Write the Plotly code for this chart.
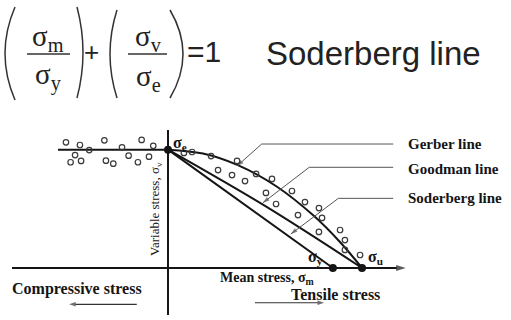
import plotly.graph_objects as go

W, H = 511, 320
# pixel position of the origin and pixels per stress unit
X0, Y0, S = 168, 268, 1.94

# key strengths (arbitrary stress units, sigma_u = 100)
sigma_e = 61
sigma_y = 85
sigma_u = 100

# scattered test points, compressive side
comp_mean = [-52.6, -45.4, -40.6, -32.8, -23.7, -13.6, -7.6, -47.9,
             -50.2, -44.8, -32.0, -28.2, -20.3, -15.5, -9.8]
comp_var = [64.8, 63.4, 60.8, 65.8, 62.2, 66.0, 63.0, 58.2,
            54.5, 55.2, 55.3, 53.8, 57.9, 54.5, 57.4]

# scattered test points, tensile side
tens_mean = [8.2, 12.4, 22.2, 35.6, 25.8, 33.0, 39.7, 45.4, 53.6, 50.5, 55.7,
             63.9, 70.6, 77.8, 67.0, 79.4, 77.8, 88.7, 91.2, 91.2, 99.0]
tens_var = [59.3, 59.8, 57.7, 55.2, 50.5, 47.9, 44.8, 48.5, 45.9, 38.7, 33.0,
            39.7, 34.0, 30.9, 27.3, 25.8, 18.6, 19.6, 14.4, 9.3, 6.7]

# failure lines
gerber_mean = [0, 18, 36, 56, 75, 89, 100]
gerber_var = [61, 59, 53, 42, 27, 13, 0]
goodman_mean = [0, 50, 100]
goodman_var = [61, 32, 0]
soderberg_mean = [0, 85]
soderberg_var = [61, 0]

line_names = ["Gerber line", "Goodman line", "Soderberg line"]
leader_tip = [(35.6, 52.6), (48.9, 33.6), (63.3, 17.5)]
leader_knee = [(48.3, 63.9), (72.8, 51.9), (87.8, 35.9)]
leader_end = 116.1
label_y = [63.9, 50.9, 35.9]

INK = "#151515"
SERIF = "Liberation Serif, Times New Roman, serif"
SANS = "Liberation Sans, Arial, sans-serif"


def px(x):
    return x / W


def py(y):
    return 1 - y / H


def arrow_trace(xs, ys, color, width, head):
    # polyline ending in an arrowhead that follows the last segment
    sizes = [0] * (len(xs) - 1) + [head]
    return go.Scatter(x=xs, y=ys, mode="lines+markers",
                      line=dict(color=color, width=width),
                      marker=dict(symbol="arrow", angleref="previous", size=sizes,
                                  color=color, line=dict(width=0)))


fig = go.Figure()

# axes
fig.add_trace(arrow_trace([-80.4, 122.5], [0, 0], INK, 2, 10))
fig.add_trace(go.Scatter(x=[0, 0], y=[-24.2, 71.1], mode="lines", line=dict(color=INK, width=2)))
fig.add_trace(go.Scatter(x=[-56.7, 0], y=[sigma_e, sigma_e], mode="lines",
                         line=dict(color=INK, width=2)))

fig.add_trace(go.Scatter(x=gerber_mean, y=gerber_var, mode="lines",
                         line=dict(color=INK, width=2, shape="spline")))
fig.add_trace(go.Scatter(x=goodman_mean, y=goodman_var, mode="lines",
                         line=dict(color=INK, width=2, shape="spline")))
fig.add_trace(go.Scatter(x=soderberg_mean, y=soderberg_var, mode="lines",
                         line=dict(color=INK, width=2)))

# leaders to the line labels
for (tx, ty), (kx, ky) in zip(leader_tip, leader_knee):
    fig.add_trace(arrow_trace([leader_end, kx, tx], [ky, ky, ty], "#555", 1, 7))

# direction arrows under the axis
fig.add_trace(arrow_trace([-16.1, -51], [-18.7, -18.7], "#333", 1.2, 7))
fig.add_trace(arrow_trace([44.8, 80.5], [-17.9, -17.9], "#333", 1.2, 7))

fig.add_trace(go.Scatter(x=comp_mean + tens_mean, y=comp_var + tens_var, mode="markers",
                         marker=dict(symbol="circle-open", size=5.5, color="#3a3a3a",
                                     line=dict(width=1.2))))
fig.add_trace(go.Scatter(x=[0, sigma_y, sigma_u], y=[sigma_e, 0, 0], mode="markers",
                         marker=dict(size=8, color=INK)))


# big brackets and fraction bars of the formula
def paren(xe, xb, y0, y1):
    xc = 2 * xb - xe
    ym = (y0 + y1) / 2
    return dict(type="path", xref="paper", yref="paper",
                path=f"M {px(xe)},{py(y0)} Q {px(xc)},{py(ym)} {px(xe)},{py(y1)}",
                line=dict(color="#333", width=1.5))


shapes = [paren(15, 5, 7, 100), paren(77, 83, 7, 98),
          paren(117, 110, 10, 98), paren(170, 183, 10, 98)]
for (a, b) in [(27, 70), (128, 167)]:
    shapes.append(dict(type="line", xref="paper", yref="paper", x0=px(a), x1=px(b),
                       y0=py(54), y1=py(54), line=dict(color="#333", width=1.5)))

ann = []
for name, ly in zip(line_names, label_y):
    ann.append(dict(x=122.5, y=ly, text=f"<b>{name}</b>", showarrow=False, xanchor="left",
                    font=dict(family=SERIF, size=15, color=INK)))
ann += [
    dict(x=-47.1, y=-11.0, text="<b>Compressive stress</b>", showarrow=False,
         font=dict(family=SERIF, size=16, color=INK)),
    dict(x=25.9, y=-5.6, text="<b>Mean stress, σ<sub>m</sub></b>", showarrow=False,
         xanchor="left", font=dict(family=SERIF, size=14, color=INK)),
    dict(x=86.1, y=-13.9, text="<b>Tensile stress</b>", showarrow=False,
         font=dict(family=SERIF, size=16, color=INK)),
    dict(x=-6.7, y=30.4, text="Variable stress, σ<sub>v</sub>", showarrow=False, textangle=-90,
         font=dict(family=SERIF, size=13, color=INK)),
    dict(x=1.5, y=64.4, text="<b>σ<sub>e</sub></b>", showarrow=False, xanchor="left",
         font=dict(family=SERIF, size=16, color=INK)),
    dict(x=76.0, y=5.2, text="<b>σ<sub>y</sub></b>", showarrow=False,
         font=dict(family=SERIF, size=16, color=INK)),
    dict(x=107.2, y=5.2, text="<b>σ<sub>u</sub></b>", showarrow=False,
         font=dict(family=SERIF, size=16, color=INK)),
]


# formula
def ftext(x, y, text, size, family=SERIF, anchor="center"):
    return dict(x=px(x), y=py(y), xref="paper", yref="paper", text=text, showarrow=False,
                xanchor=anchor, yanchor="middle", font=dict(family=family, size=size, color="#222"))


ann += [
    ftext(48, 38, "σ<sub>m</sub>", 29),
    ftext(48, 76, "σ<sub>y</sub>", 29),
    ftext(148, 38, "σ<sub>v</sub>", 29),
    ftext(148, 78, "σ<sub>e</sub>", 29),
    ftext(91, 52, "+", 26, SANS),
    ftext(185, 52, "=1", 30, SANS, "left"),
    ftext(264, 53, "Soderberg line", 33, SANS, "left"),
]

fig.update_layout(
    width=W, height=H,
    margin=dict(l=0, r=0, t=0, b=0),
    paper_bgcolor="white", plot_bgcolor="white",
    showlegend=False,
    xaxis=dict(range=[-X0 / S, (W - X0) / S], visible=False, fixedrange=True),
    yaxis=dict(range=[(Y0 - H) / S, Y0 / S], visible=False, fixedrange=True),
    shapes=shapes,
    annotations=ann,
)

fig.write_html("out.html", config={"displayModeBar": False},
               post_script="document.body.style.margin='0';")
